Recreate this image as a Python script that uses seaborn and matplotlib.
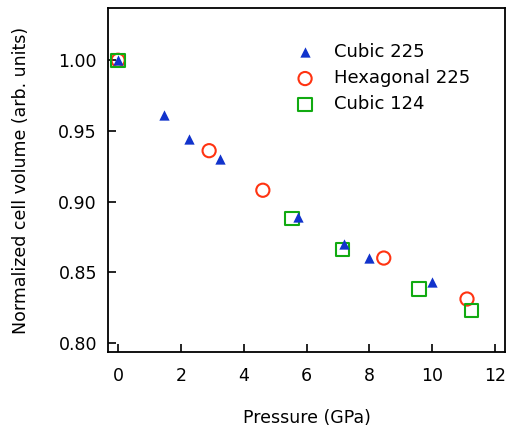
import numpy as np
import pandas as pd
import matplotlib
matplotlib.use("Agg")
import matplotlib.pyplot as plt
import seaborn as sns

# data
cubic225_p = [0.0, 1.47, 2.27, 3.24, 5.74, 7.18, 8.0, 9.98]
cubic225_v = [1.000, 0.961, 0.944, 0.930, 0.889, 0.870, 0.860, 0.843]
hex225_p = [0.0, 2.90, 4.61, 8.46, 11.11]
hex225_v = [1.000, 0.936, 0.908, 0.860, 0.831]
cubic124_p = [0.0, 5.54, 7.14, 9.58, 11.26]
cubic124_v = [1.000, 0.888, 0.866, 0.838, 0.823]

xticks = [0, 2, 4, 6, 8, 10, 12]
yticks = [0.80, 0.85, 0.90, 0.95, 1.00]

sns.set_style("ticks")
plt.rcParams["font.family"] = ["DejaVu Sans"]
plt.rcParams["text.color"] = "black"
plt.rcParams["axes.labelcolor"] = "black"

fig, ax = plt.subplots(figsize=(5.07, 4.28), dpi=100)
fig.subplots_adjust(left=108/507, right=505/507, top=1-8/428, bottom=1-352/428)

sns.scatterplot(x=cubic225_p, y=cubic225_v, marker="^", s=55, color="#1133CC",
                edgecolor="#1133CC", linewidth=0, label="Cubic 225", ax=ax, zorder=3)
sns.scatterplot(x=hex225_p, y=hex225_v, marker="o", s=90, facecolor="none",
                edgecolor="#FF3311", linewidth=1.5, label="Hexagonal 225", ax=ax, zorder=2)
sns.scatterplot(x=cubic124_p, y=cubic124_v, marker="s", s=95, facecolor="none",
                edgecolor="#11AA11", linewidth=1.5, label="Cubic 124", ax=ax, zorder=2)

ax.set_xlim(-0.32, 12.32)
ax.set_ylim(0.7935, 1.037)
ax.set_xticks(xticks)
ax.set_yticks(yticks)
ax.set_yticklabels([f"{v:.2f}" for v in yticks])
ax.tick_params(direction="in", length=6, width=1.2, labelsize=12.5, colors="black", pad=8)
ax.tick_params(axis="x", pad=11)
for s in ax.spines.values():
    s.set_linewidth(1.3)
    s.set_color("black")
    s.set_visible(True)

ax.set_xlabel("Pressure (GPa)", fontsize=12.5, labelpad=17)
ax.set_ylabel("Normalized cell volume (arb. units)", fontsize=12.5, labelpad=20)

leg = ax.legend(loc="upper left", bbox_to_anchor=(0.41, 0.945), frameon=False, fontsize=13,
                handletextpad=0.6, labelspacing=0.45, markerscale=1.0)
for t in leg.get_texts():
    t.set_color("black")

fig.savefig("out.png", dpi=100)
